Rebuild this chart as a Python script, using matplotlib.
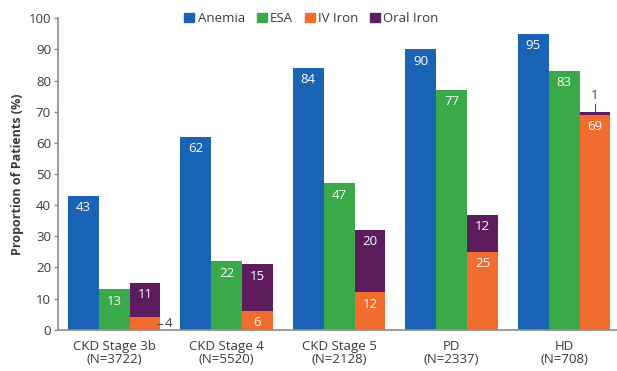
import matplotlib
matplotlib.use("Agg")
import matplotlib.pyplot as plt
import numpy as np
from matplotlib.patches import Patch

plt.rcParams['font.family'] = ['Open Sans', 'DejaVu Sans']

categories = ["CKD Stage 3b\n(N=3722)", "CKD Stage 4\n(N=5520)", "CKD Stage 5\n(N=2128)",
              "PD\n(N=2337)", "HD\n(N=708)"]
anemia = [43, 62, 84, 90, 95]
esa = [13, 22, 47, 77, 83]
iv_iron = [4, 6, 12, 25, 69]
oral_iron = [11, 15, 20, 12, 1]
yticks = [0, 10, 20, 30, 40, 50, 60, 70, 80, 90, 100]

c_blue = "#1a64b6"
c_green = "#3aa948"
c_orange = "#f26c2f"
c_purple = "#5c1c5e"
c_axis = "#8c8c8c"
c_text = "#3a3a3a"

fig = plt.figure(figsize=(6.17, 3.71), dpi=100)
ax = fig.add_axes([0.094, 0.111, 0.906, 0.840])

x = np.arange(len(categories))
w = 0.274

b1 = ax.bar(x - w, anemia, w, color=c_blue)
b2 = ax.bar(x, esa, w, color=c_green)
b3 = ax.bar(x + w, iv_iron, w, color=c_orange)
b4 = ax.bar(x + w, oral_iron, w, bottom=iv_iron, color=c_purple)

fs = 9.5
def inlabel(xc, top, val):
    ax.annotate(str(val), (xc, top), xytext=(0, -8.5), textcoords="offset points",
                ha="center", va="center", color="white", fontsize=fs)

for i in range(len(categories)):
    inlabel(x[i] - w, anemia[i], anemia[i])
    inlabel(x[i], esa[i], esa[i])
    top = iv_iron[i] + oral_iron[i]
    if oral_iron[i] >= 5:
        inlabel(x[i] + w, top, oral_iron[i])
    else:
        ax.annotate(str(oral_iron[i]), (x[i] + w, top), xytext=(0, 12), textcoords="offset points",
                    ha="center", va="center", color=c_text, fontsize=fs)
        ax.plot([x[i] + w, x[i] + w], [top + 0.3, top + 2.6], color=c_text, lw=0.7)
    if iv_iron[i] >= 5:
        inlabel(x[i] + w, iv_iron[i], iv_iron[i])
    else:
        xe = x[i] + w * 1.5
        ax.annotate(str(iv_iron[i]), (xe, iv_iron[i] / 2), xytext=(3, 0), textcoords="offset points",
                    ha="left", va="center", color=c_text, fontsize=fs)
        ax.plot([xe - 0.035, xe + 0.015], [iv_iron[i] / 2, iv_iron[i] / 2], color=c_text, lw=0.7)

ax.set_xlim(-0.5, 4.47)
ax.set_ylim(0, 100)
ax.set_yticks(yticks)
ax.set_xticks(x)
ax.set_xticklabels(categories, fontsize=fs, color=c_text, linespacing=1.0)
ax.tick_params(axis="x", length=0, pad=7)
ax.tick_params(axis="y", length=3, color=c_axis, labelsize=fs, labelcolor=c_text, pad=2, width=1)
for s in ["top", "right"]:
    ax.spines[s].set_visible(False)
for s in ["left", "bottom"]:
    ax.spines[s].set_color(c_axis)
    ax.spines[s].set_linewidth(1.2)

ax.set_ylabel("Proportion of Patients (%)", fontsize=9, fontweight="bold", color=c_text, labelpad=3)

handles = [Patch(color=c_blue, label="Anemia"), Patch(color=c_green, label="ESA"),
           Patch(color=c_orange, label="IV Iron"), Patch(color=c_purple, label="Oral Iron")]
fig.legend(handles=handles, loc="center", bbox_to_anchor=(0.505, 0.95), ncol=4, frameon=False,
           fontsize=fs, handlelength=0.75, handleheight=0.75, handletextpad=0.25, columnspacing=0.9,
           labelcolor=c_text)

fig.savefig("out.png", dpi=100)
